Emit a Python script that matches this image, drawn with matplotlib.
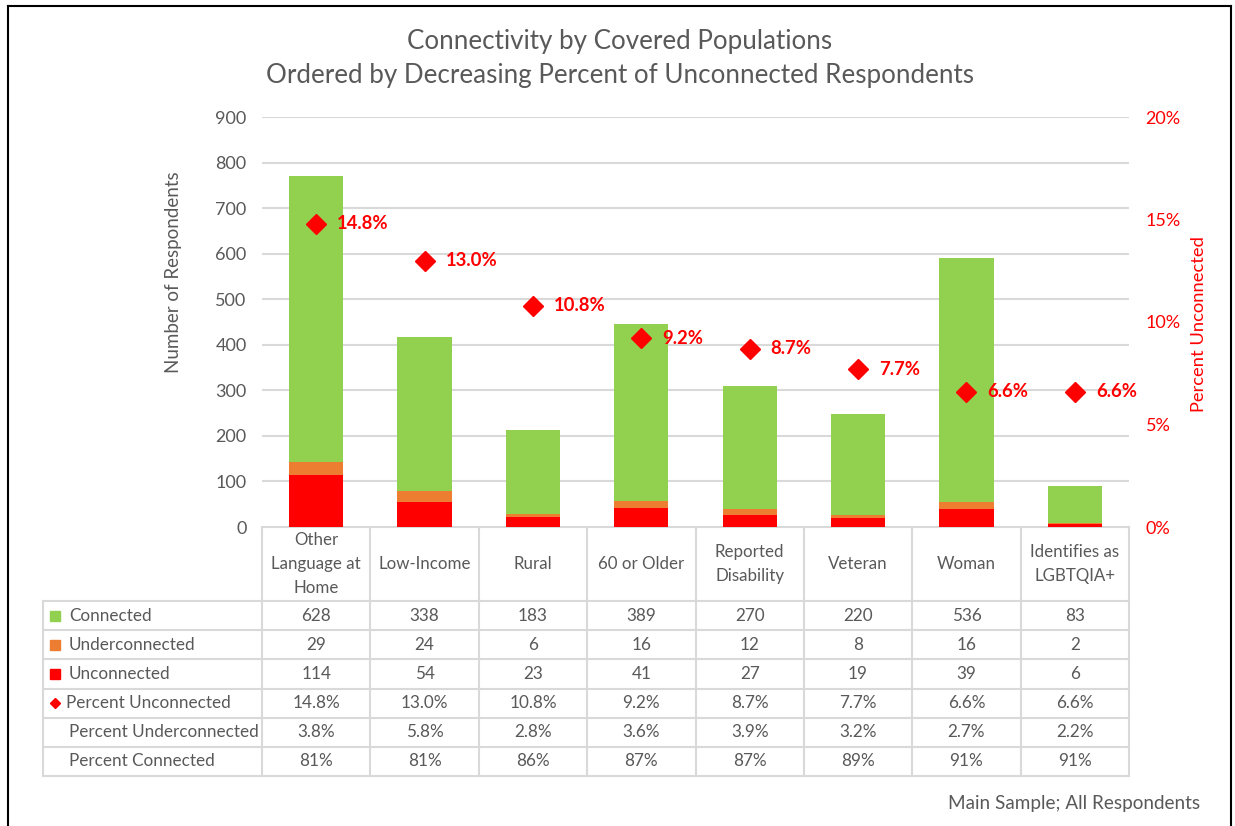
import numpy as np
import matplotlib
matplotlib.use("Agg")
import matplotlib.pyplot as plt
from matplotlib.lines import Line2D

categories = ["Other\nLanguage at\nHome", "Low-Income", "Rural", "60 or Older",
              "Reported\nDisability", "Veteran", "Woman", "Identifies as\nLGBTQIA+"]
connected = [628, 338, 183, 389, 270, 220, 536, 83]
underconnected = [29, 24, 6, 16, 12, 8, 16, 2]
unconnected = [114, 54, 23, 41, 27, 19, 39, 6]
pct_unconnected = [14.8, 13.0, 10.8, 9.2, 8.7, 7.7, 6.6, 6.6]
pct_underconnected = [3.8, 5.8, 2.8, 3.6, 3.9, 3.2, 2.7, 2.2]
pct_connected = [81, 81, 86, 87, 87, 89, 91, 91]

GREEN = "#92D050"
ORANGE = "#ED7D31"
RED = "#FF0000"
GRAY = "#595959"
GRID = "#D9D9D9"

plt.rcParams['font.family'] = ['Lato', 'DejaVu Sans']

W, H = 1235, 826
fig = plt.figure(figsize=(W / 100, H / 100), dpi=100)

# plot area in pixels
L, R, T, B = 262, 1129, 117, 527
ax = fig.add_axes([L / W, 1 - B / H, (R - L) / W, (B - T) / H])
x = np.arange(len(categories))
bot2 = np.add(unconnected, underconnected)
ax.bar(x, unconnected, 0.5, color=RED, zorder=3)
ax.bar(x, underconnected, 0.5, bottom=unconnected, color=ORANGE, zorder=3)
ax.bar(x, connected, 0.5, bottom=bot2, color=GREEN, zorder=3)
ax.set_xlim(-0.5, len(x) - 0.5)
ax.set_ylim(0, 900)
ax.set_yticks(range(0, 901, 100))
ax.yaxis.grid(True, color=GRID, lw=1.5)
ax.set_axisbelow(True)
for s in ax.spines.values():
    s.set_visible(False)
ax.set_xticks([])
ax.tick_params(axis='y', length=0, labelsize=13, labelcolor=GRAY, pad=11)
ax.set_ylabel("Number of Respondents", color=GRAY, fontsize=13.5)
ax.yaxis.set_label_coords(-0.092, 0.622)

ax2 = ax.twinx()
ax2.plot(x, pct_unconnected, 'D', color=RED, ms=10, zorder=5)
for xi, v in zip(x, pct_unconnected):
    ax2.annotate(f"{v:.1f}%", (xi, v), xytext=(21, 0), textcoords='offset pixels',
                 ha='left', va='center', color=RED, fontsize=13.3, fontweight='bold')
ax2.set_ylim(0, 20)
ax2.set_yticks([0, 5, 10, 15, 20])
ax2.set_yticklabels([f"{t}%" for t in [0, 5, 10, 15, 20]])
for s in ax2.spines.values():
    s.set_visible(False)
ax2.tick_params(axis='y', length=0, labelsize=13, labelcolor=RED, pad=12)
ax2.set_ylabel("Percent Unconnected", color=RED, fontsize=13.2)
ax2.yaxis.set_label_coords(1.072, 0.496)

# data table under the chart
tb = fig.add_axes([0, 0, 1, 1], zorder=-1)
tb.set_xlim(0, W)
tb.set_ylim(H, 0)
tb.axis('off')
n = len(categories)
cw = (R - L) / n
edges = [L + i * cw for i in range(n + 1)]
hdr_bot = 601
rh = (776 - hdr_bot) / 6
rows_y = [hdr_bot + k * rh for k in range(7)]
TL = 43
lw = 1.5
# horizontal lines
tb.plot([L, R], [B, B], color=GRID, lw=lw)
for yy in rows_y:
    tb.plot([TL, R], [yy, yy], color=GRID, lw=lw)
# vertical lines
for e in edges:
    tb.plot([e, e], [B, rows_y[-1]], color=GRID, lw=lw)
tb.plot([TL, TL], [hdr_bot, rows_y[-1]], color=GRID, lw=lw)

for i, c in enumerate(categories):
    tb.text(edges[i] + cw / 2, (B + hdr_bot) / 2, c, ha='center', va='center',
            color=GRAY, fontsize=12.2, linespacing=1.58)

row_names = ["Connected", "Underconnected", "Unconnected", "Percent Unconnected",
             "Percent Underconnected", "Percent Connected"]
row_vals = [[str(v) for v in connected],
            [str(v) for v in underconnected],
            [str(v) for v in unconnected],
            [f"{v:.1f}%" for v in pct_unconnected],
            [f"{v:.1f}%" for v in pct_underconnected],
            [f"{v:.0f}%" for v in pct_connected]]
markers = [('s', GREEN), ('s', ORANGE), ('s', RED), ('D', RED), None, None]
for k, (name, vals, mk) in enumerate(zip(row_names, row_vals, markers)):
    yc = (rows_y[k] + rows_y[k + 1]) / 2
    tx = 69 if mk is None or mk[0] == 's' else 66
    if mk is not None:
        tb.plot(55, yc, mk[0], color=mk[1], ms=7 if mk[0] == 's' else 5)
    tb.text(tx, yc, name, ha='left', va='center', color=GRAY, fontsize=12.3)
    for i, v in enumerate(vals):
        tb.text(edges[i] + cw / 2, yc, v, ha='center', va='center', color=GRAY, fontsize=12.3)

fig.text(620 / W, 1 - 41 / H, "Connectivity by Covered Populations",
         ha='center', va='center', color=GRAY, fontsize=18.7)
fig.text(620 / W, 1 - 75 / H, "Ordered by Decreasing Percent of Unconnected Respondents",
         ha='center', va='center', color=GRAY, fontsize=18.7)
fig.text(1200 / W, 1 - 803 / H, "Main Sample; All Respondents", ha='right', va='center',
         color=GRAY, fontsize=13.6)

# chart border
for xs, ys in [([8, 8], [6, H]), ([8, 1231], [6, 6]), ([1231, 1231], [6, H])]:
    fig.add_artist(Line2D([v / W for v in xs], [1 - v / H for v in ys], color='black', lw=1.5))

fig.savefig("out.png", dpi=100, facecolor='white')
